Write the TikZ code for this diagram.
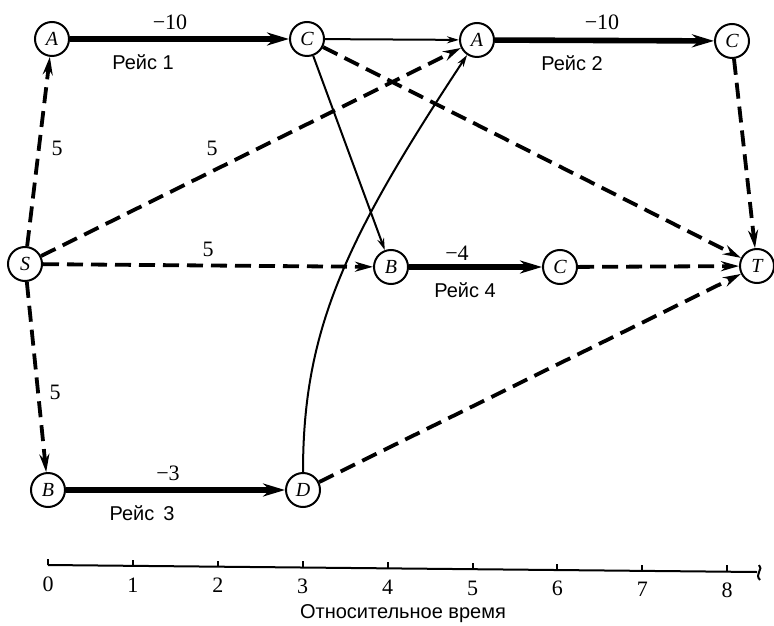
\documentclass[tikz,border=0pt]{standalone}
\usepackage{fontspec}
\setmainfont{Liberation Serif}
\setsansfont{Liberation Sans}
\usetikzlibrary{arrows.meta}

\tikzset{
  stopnode/.style={draw,circle,line width=1pt,minimum size=17pt,inner sep=0pt,font=\fontsize{10}{10}\selectfont\itshape},
  tripline/.style={line width=2.8pt,-{Stealth[length=11pt,width=6.5pt]}},
  waitline/.style={line width=1.9pt,dash pattern=on 8pt off 4pt,-{Stealth[length=9pt,width=5pt]}},
  moveline/.style={line width=1pt,-{Stealth[length=6pt,width=3.5pt]}},
  costlabel/.style={font=\fontsize{11}{11}\selectfont},
  triplabel/.style={font=\sffamily\fontsize{10}{10}\selectfont},
  ticklabel/.style={inner sep=1pt,font=\fontsize{11}{11}\selectfont}
}

\begin{document}
\begin{tikzpicture}[x=0.5pt,y=-0.5pt]
\useasboundingbox (0,0) rectangle (774,625);
\node[stopnode] (A1) at (52,39) {A};
\node[stopnode] (C1) at (307,39) {C};
\node[stopnode] (A2) at (477,40) {A};
\node[stopnode] (C2) at (732,41) {C};
\node[stopnode] (S) at (25,264) {S};
\node[stopnode] (B1) at (391,267) {B};
\node[stopnode] (C3) at (560,267) {C};
\node[stopnode] (T) at (757,266) {T};
\node[stopnode] (B2) at (48,490) {B};
\node[stopnode] (D) at (303,490) {D};

\draw[tripline] (A1) -- (C1);
\draw[tripline] (A2) -- (C2);
\draw[tripline] (B1) -- (C3);
\draw[tripline] (B2) -- (D);

\draw[waitline] (S) -- (A1);
\draw[waitline] (S) -- (A2);
\draw[waitline] (S) -- (B1);
\draw[waitline] (S) -- (B2);
\draw[waitline] (C1) -- (T);
\draw[waitline] (C2) -- (T);
\draw[waitline] (C3) -- (T);
\draw[waitline] (D) -- (T);

\draw[moveline] (C1) -- (A2);
\draw[moveline] (C1) -- (B1);
\draw[moveline] (D.north) .. controls (303,330) and (345,240) .. (A2);

\node[costlabel] (w1) at (170,22) {−10};
\node[triplabel] (r1) at (143,62) {Рейс 1};
\node[costlabel] (w2) at (602,22) {−10};
\node[triplabel] (r2) at (572,63) {Рейс 2};
\node[costlabel] (w4) at (457,253) {−4};
\node[triplabel] (r4) at (465,290) {Рейс 4};
\node[costlabel] (w3) at (168,473) {−3};
\node[triplabel] (r3) at (142,513) {Рейс~\,3};
\node[costlabel] (d1) at (57,148) {5};
\node[costlabel] (d2) at (212,148) {5};
\node[costlabel] (d3) at (208,249) {5};
\node[costlabel] (d4) at (55,392) {5};

\draw[line width=1pt] (48,565) -- (757,572);
\foreach \k in {0,...,8}
  \draw[line width=1pt] ({48+84.9*\k},{565+0.8*\k}) -- ({48+84.9*\k},{559+0.8*\k})
    node[ticklabel] (t\k) at ({48+84.9*\k},{584+0.8*\k}) {\k};
\draw[line width=1pt] (759,565) .. controls (764,569) and (754,574) .. (760,580);
\node[triplabel,inner sep=1pt] (title) at (403,614) {Относительное время};
\end{tikzpicture}
\end{document}
